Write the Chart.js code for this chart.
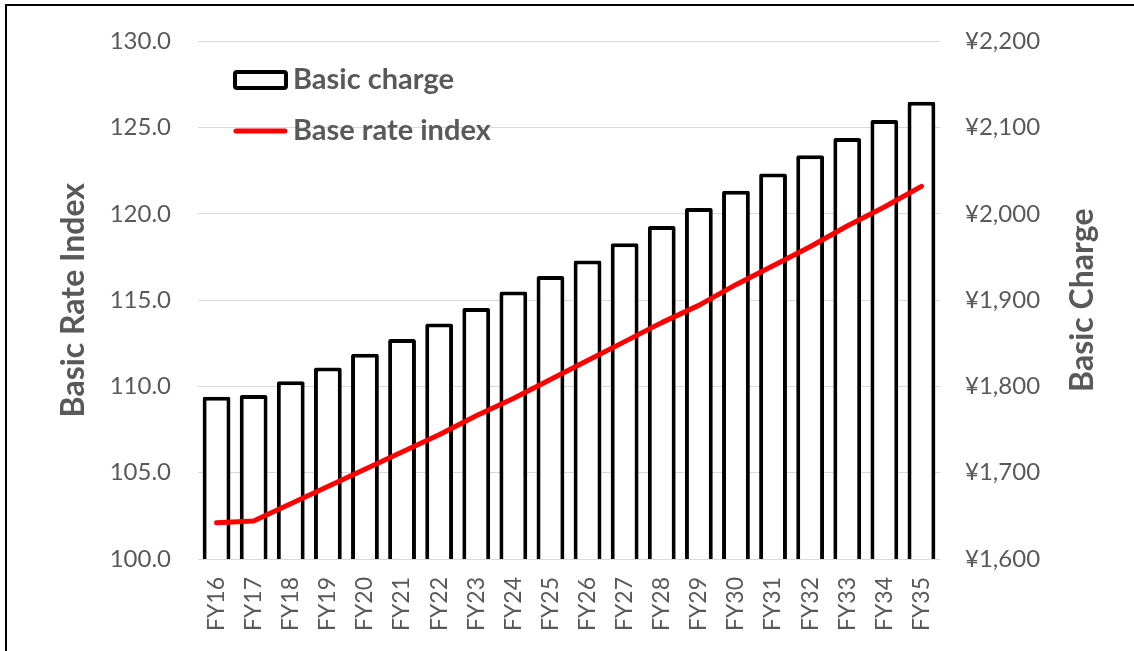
<!DOCTYPE html>
<html>
<head>
<meta charset="utf-8">
<title>Basic charge and base rate index</title>
<script src="https://cdn.jsdelivr.net/npm/chart.js@4.4.1/dist/chart.umd.min.js"></script>
<style>
    html, body { margin: 0; padding: 0; background: #fff; }
    #wrap { position: relative; width: 1134px; height: 651px; overflow: hidden; }
    #frame {
        position: absolute; left: 5px; top: 4px; width: 2000px; height: 2000px;
        border-left: 2px solid #000; border-top: 2px solid #000;
    }
    canvas { position: absolute; left: 0; top: 0; }
</style>
</head>
<body>
<div id="wrap">
    <div id="frame"></div>
    <canvas id="chart" width="1134" height="651"></canvas>
</div>
<script>
'use strict';

// Fiscal years
const categories = ['FY16', 'FY17', 'FY18', 'FY19', 'FY20', 'FY21', 'FY22',
    'FY23', 'FY24', 'FY25', 'FY26', 'FY27', 'FY28', 'FY29', 'FY30', 'FY31',
    'FY32', 'FY33', 'FY34', 'FY35'];

// Basic charge (yen, right axis)
const basicCharge = [1788, 1790, 1806, 1822, 1838, 1855, 1873, 1891, 1910,
    1928, 1946, 1966, 1986, 2007, 2027, 2047, 2068, 2088, 2109, 2130];

// Base rate index (left axis)
const baseRateIndex = [102.1, 102.2, 103.2, 104.2, 105.2, 106.2, 107.2, 108.3,
    109.3, 110.4, 111.5, 112.6, 113.7, 114.7, 115.9, 117.0, 118.1, 119.3,
    120.4, 121.6];

// Axis ranges
const indexRange = [100, 130, 5];
const chargeRange = [1600, 2200, 100];

const textColor = '#595959';
const fontFamily = 'Lato, "Noto Sans", sans-serif';

// Legend drawn inside the plot, top left, plus the right axis title
// (Chart.js turns right titles the other way)
const extras = {
    id: 'extras',
    afterDraw(chart) {
        const ctx = chart.ctx;
        const sets = chart.data.datasets;
        ctx.save();
        ctx.font = 'bold 29px ' + fontFamily;
        ctx.fillStyle = textColor;
        ctx.textBaseline = 'middle';

        // Bar item
        ctx.lineWidth = 4;
        ctx.strokeStyle = '#000';
        ctx.beginPath();
        ctx.roundRect(235, 72, 51, 16, 2);
        ctx.stroke();
        ctx.fillText(sets[1].label, 293, 80);

        // Line item
        ctx.lineWidth = 5;
        ctx.lineCap = 'round';
        ctx.strokeStyle = '#ff0000';
        ctx.beginPath();
        ctx.moveTo(236, 131);
        ctx.lineTo(285, 131);
        ctx.stroke();
        ctx.fillText(sets[0].label, 293, 131);

        // Right axis title, reading upwards
        const area = chart.chartArea;
        ctx.font = 'bold 32px ' + fontFamily;
        ctx.textAlign = 'center';
        ctx.textBaseline = 'alphabetic';
        ctx.translate(1093, (area.top + area.bottom) / 2);
        ctx.rotate(-Math.PI / 2);
        ctx.fillText('Basic Charge', 0, 0);
        ctx.restore();
    }
};

const data = {
    labels: categories,
    datasets: [{
        type: 'line',
        label: 'Base rate index',
        data: baseRateIndex,
        yAxisID: 'y',
        borderColor: '#ff0000',
        borderWidth: 5,
        borderCapStyle: 'round',
        borderJoinStyle: 'round',
        pointRadius: 0,
        tension: 0,
        order: 0
    }, {
        type: 'bar',
        label: 'Basic charge',
        data: basicCharge,
        yAxisID: 'y1',
        backgroundColor: '#ffffff',
        borderColor: '#000000',
        borderWidth: 4,
        borderSkipped: false,
        borderRadius: 2,
        barPercentage: 0.75,
        categoryPercentage: 1,
        order: 1
    }]
};

const config = {
    type: 'bar',
    data: data,
    options: {
        responsive: false,
        animation: false,
        layout: { padding: { top: 40, left: 0, right: 0, bottom: 0 } },
        plugins: {
            legend: { display: false },
            tooltip: { enabled: false }
        },
        scales: {
            x: {
                grid: { display: false, drawTicks: false },
                border: { display: false },
                ticks: {
                    color: textColor,
                    font: { family: fontFamily, size: 23 },
                    minRotation: 90,
                    maxRotation: 90,
                    autoSkip: false,
                    padding: 18
                },
                afterFit(scale) { scale.height = 92; }
            },
            y: {
                position: 'left',
                min: indexRange[0],
                max: indexRange[1],
                grid: { color: '#d9d9d9', lineWidth: 1, drawTicks: false },
                border: { display: false },
                ticks: {
                    stepSize: indexRange[2],
                    color: textColor,
                    font: { family: fontFamily, size: 24 },
                    padding: 27,
                    callback: (v) => v.toFixed(1)
                },
                title: {
                    display: true,
                    text: 'Basic Rate Index',
                    color: textColor,
                    font: { family: fontFamily, size: 32, weight: 'bold' },
                    padding: { top: 54, bottom: 0 }
                },
                afterFit(scale) { scale.width = 198; }
            },
            y1: {
                position: 'right',
                min: chargeRange[0],
                max: chargeRange[1],
                grid: { display: false, drawTicks: false },
                border: { display: false },
                ticks: {
                    stepSize: chargeRange[2],
                    color: textColor,
                    font: { family: fontFamily, size: 24 },
                    padding: 25,
                    callback: (v) => '¥' + v.toLocaleString('en-US')
                },
                afterFit(scale) { scale.width = 194; }
            }
        }
    },
    plugins: [extras]
};

new Chart(document.getElementById('chart'), config);
</script>
</body>
</html>
